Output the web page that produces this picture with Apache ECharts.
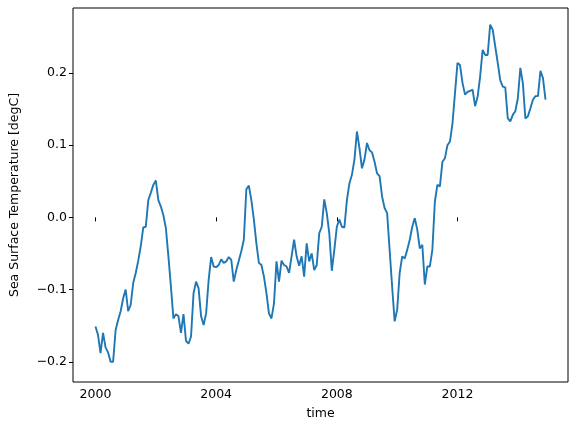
<!DOCTYPE html>
<html><head><meta charset="utf-8">
<script src="https://cdn.jsdelivr.net/npm/echarts@6/dist/echarts.min.js"></script>
<style>html,body{margin:0;padding:0;background:#fff}#c{width:579px;height:432px}</style>
</head><body><div id="c"></div>
<script>
var startYear = 2000;
var values = [
-0.151,-0.163,-0.188,-0.160,-0.180,-0.187,-0.200,-0.200,-0.156,-0.142,-0.130,-0.112,
-0.100,-0.130,-0.121,-0.091,-0.077,-0.060,-0.040,-0.014,-0.013,0.024,0.034,0.045,
0.051,0.024,0.015,0.003,-0.015,-0.054,-0.096,-0.140,-0.134,-0.137,-0.160,-0.134,
-0.171,-0.175,-0.165,-0.105,-0.089,-0.098,-0.137,-0.149,-0.133,-0.087,-0.055,-0.068,
-0.069,-0.066,-0.058,-0.063,-0.061,-0.055,-0.059,-0.089,-0.073,-0.060,-0.047,-0.031,
0.039,0.044,0.024,-0.003,-0.036,-0.063,-0.066,-0.082,-0.105,-0.133,-0.140,-0.119,
-0.061,-0.089,-0.060,-0.066,-0.068,-0.077,-0.054,-0.031,-0.054,-0.067,-0.054,-0.082,
-0.036,-0.061,-0.050,-0.073,-0.066,-0.022,-0.013,0.025,0.006,-0.022,-0.074,-0.045,
-0.013,-0.003,-0.013,-0.014,0.024,0.047,0.059,0.080,0.119,0.096,0.068,0.080,
0.103,0.093,0.090,0.077,0.061,0.057,0.029,0.013,0.006,-0.045,-0.096,-0.144,
-0.128,-0.077,-0.054,-0.057,-0.045,-0.031,-0.013,-0.001,-0.017,-0.043,-0.038,-0.093,
-0.068,-0.068,-0.045,0.022,0.045,0.043,0.077,0.082,0.100,0.105,0.130,0.172,
0.214,0.211,0.186,0.170,0.174,0.175,0.177,0.154,0.167,0.195,0.232,0.225,
0.225,0.267,0.260,0.237,0.214,0.190,0.181,0.180,0.137,0.133,0.142,0.147,
0.165,0.207,0.186,0.137,0.140,0.151,0.163,0.168,0.168,0.203,0.193,0.163
];
var xTicks = [2000, 2004, 2008, 2012];
var yTicks = [-0.2, -0.1, 0.0, 0.1, 0.2];

var data = values.map(function(v, i){ return [startYear + i/12, v]; });
var font = 'DejaVu Sans';
var chart = echarts.init(document.getElementById('c'));
chart.setOption({
  animation: false,
  grid: {left: 73, right: 11, top: 8, bottom: 50, show: true, borderColor: '#000', borderWidth: 1, backgroundColor: 'transparent'},
  xAxis: {
    type: 'value', min: 1999.254, max: 2015.663,
    name: 'time', nameLocation: 'middle', nameGap: 25,
    nameTextStyle: {fontFamily: font, fontSize: 12.5, color: '#000'},
    axisLine: {show: false}, splitLine: {show: false},
    axisTick: {show: true, inside: false, length: 4, lineStyle: {color: '#000'}, customValues: xTicks},
    axisLabel: {fontFamily: font, fontSize: 12.5, color: '#000', margin: 6, customValues: xTicks,
      formatter: function(v){ return String(Math.round(v)); }}
  },
  yAxis: {
    type: 'value', min: -0.228, max: 0.290,
    name: 'Sea Surface Temperature [degC]', nameLocation: 'middle', nameGap: 52, nameRotate: 90,
    nameTextStyle: {fontFamily: font, fontSize: 12.5, color: '#000'},
    axisLine: {show: false}, splitLine: {show: false},
    axisTick: {show: true, inside: false, length: 4, lineStyle: {color: '#000'}, customValues: yTicks},
    axisLabel: {fontFamily: font, fontSize: 12.5, color: '#000', margin: 6, customValues: yTicks,
      formatter: function(v){ return v.toFixed(1).replace('-', '\u2212'); }}
  },
  series: [{type: 'line', data: data, showSymbol: false, symbol: 'none',
    lineStyle: {color: '#1f77b4', width: 1.9}}]
});
</script></body></html>
